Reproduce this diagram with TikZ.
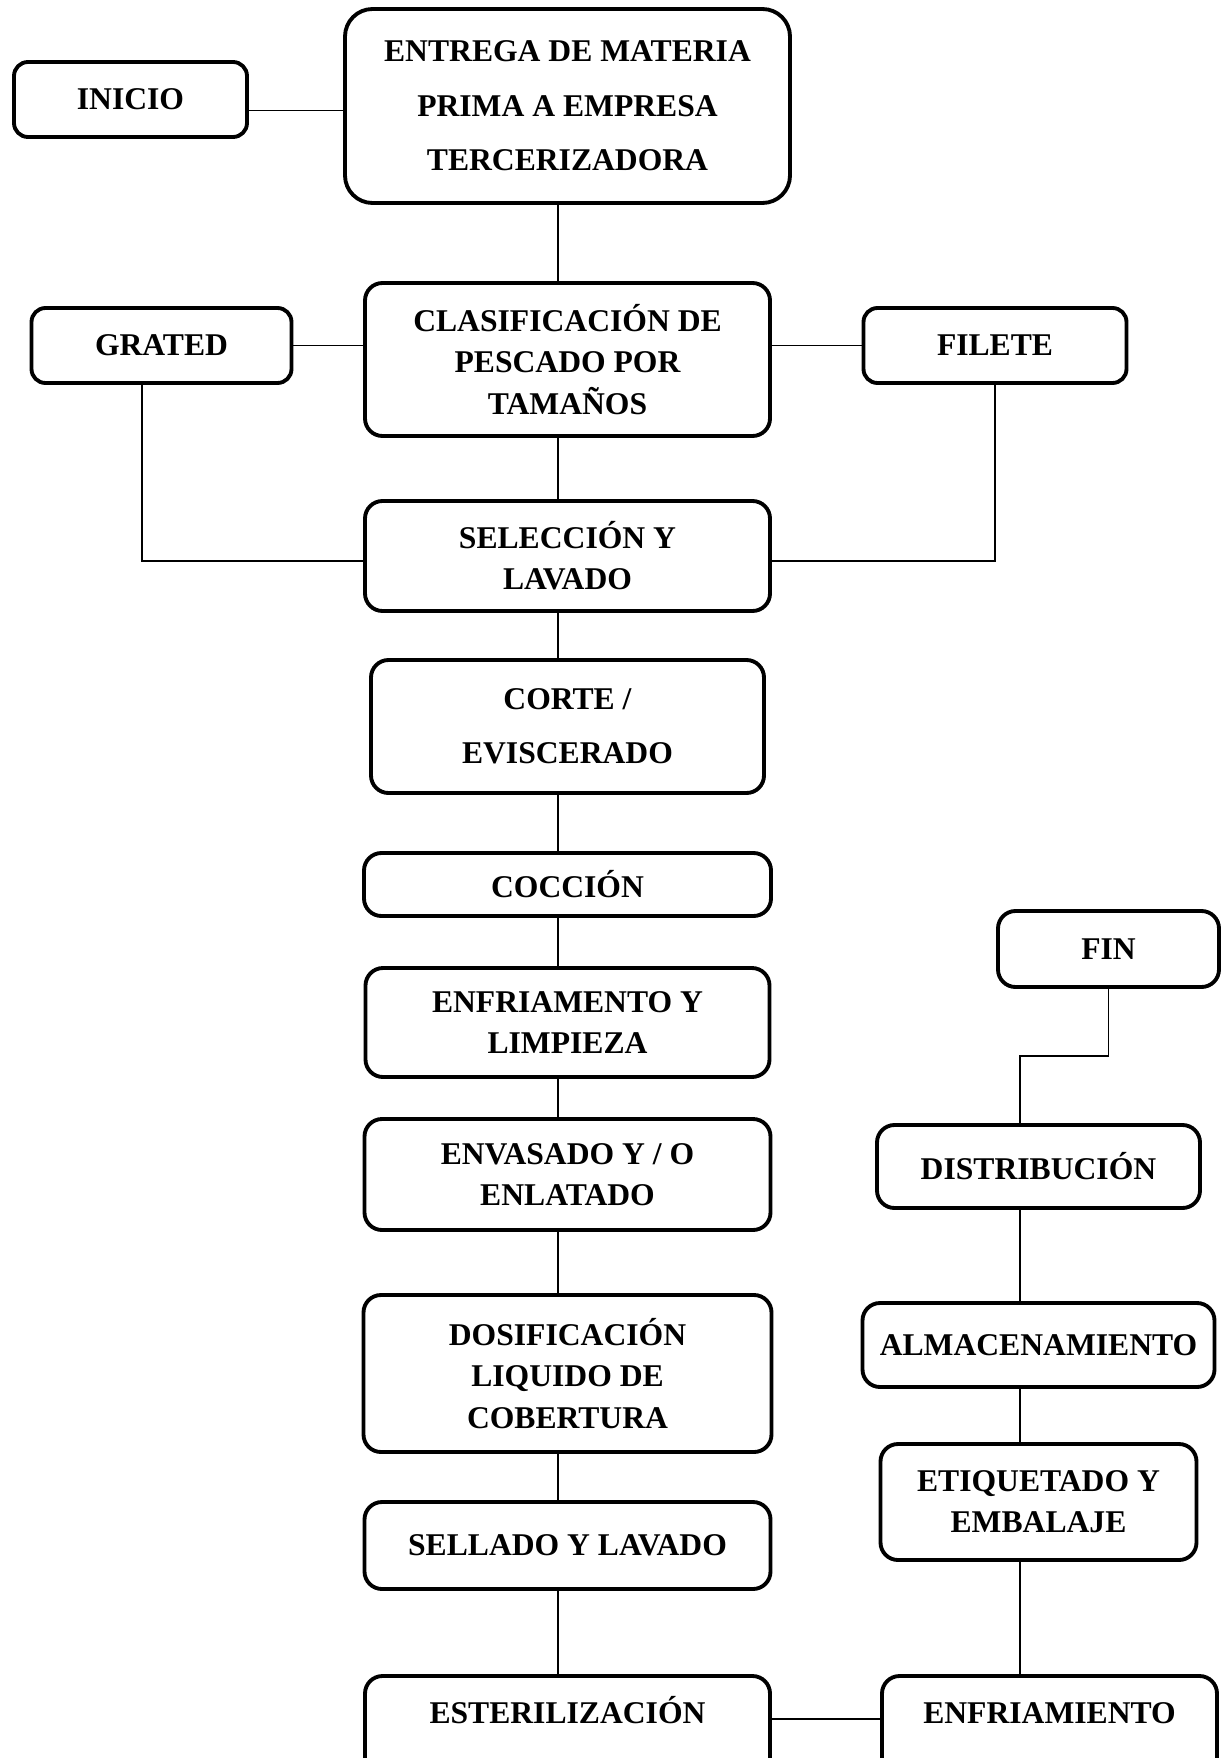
\documentclass[tikz,border=0pt]{standalone}
\usepackage{fontspec}
\setmainfont{Liberation Serif}
\usetikzlibrary{positioning}

\tikzset{
    box/.style = {draw, line width=2.2pt, rounded corners=0.35cm, align=center, inner sep=2pt,
                  font=\bfseries\fontsize{18}{23.5}\selectfont},
    wide/.style = {font=\bfseries\fontsize{18}{31}\selectfont},
    cut/.style = {inner ysep=0pt, text height=0.94cm, text depth=1.34cm},
    link/.style = {line width=0.8pt}
}

\begin{document}
\begin{tikzpicture} [node distance = 2cm, on grid]
        \useasboundingbox (0,0) rectangle (24.42,-35.16);

        % main column
        \node (entrega) [box, wide, rounded corners=0.55cm, minimum width=8.9cm, minimum height=3.88cm] at (11.35,-2.12) {ENTREGA DE MATERIA\\PRIMA A EMPRESA\\TERCERIZADORA};
        \node (clasif) [box, below = 5.07cm of entrega, minimum width=8.1cm, minimum height=3.06cm] {CLASIFICACIÓN DE\\PESCADO POR\\TAMAÑOS};
        \node (selec) [box, below = 3.93cm of clasif, minimum width=8.1cm, minimum height=2.2cm] {SELECCIÓN Y\\LAVADO};
        \node (corte) [box, wide, below = 3.41cm of selec, minimum width=7.86cm, minimum height=2.66cm] {CORTE /\\EVISCERADO};
        \node (coccion) [box, below = 3.16cm of corte, minimum width=8.14cm, minimum height=1.26cm] {COCCIÓN};
        \node (enfrlimp) [box, below = 2.76cm of coccion, minimum width=8.08cm, minimum height=2.18cm] {ENFRIAMENTO Y\\LIMPIEZA};
        \node (envasado) [box, below = 3.04cm of enfrlimp, minimum width=8.12cm, minimum height=2.22cm] {ENVASADO Y / O\\ENLATADO};
        \node (dosif) [box, below = 3.98cm of envasado, minimum width=8.16cm, minimum height=3.14cm] {DOSIFICACIÓN\\LIQUIDO DE\\COBERTURA};
        \node (sellado) [box, below = 3.44cm of dosif, minimum width=8.12cm, minimum height=1.74cm] {SELLADO Y LAVADO};
        \node (esteril) [box, cut, below = 3.75cm of sellado, minimum width=8.1cm] {ESTERILIZACIÓN};

        % right column
        \node (enfr) [box, cut, right = 9.64cm of esteril, minimum width=6.7cm] {ENFRIAMIENTO};
        \node (etiq) [box, above left = 4.62cm and 0.22cm of enfr, minimum width=6.32cm, minimum height=2.32cm] {ETIQUETADO Y\\EMBALAJE};
        \node (almacen) [box, above = 3.14cm of etiq, minimum width=7.04cm, minimum height=1.68cm] {ALMACENAMIENTO};
        \node (distrib) [box, above = 3.57cm of almacen, minimum width=6.46cm, minimum height=1.66cm] {DISTRIBUCIÓN};
        \node (fin) [box, above right = 4.35cm and 1.4cm of distrib, minimum width=4.42cm, minimum height=1.52cm] {FIN};

        % side boxes
        \node (inicio) [box, rounded corners=0.28cm, above left = 0.13cm and 8.74cm of entrega, minimum width=4.66cm, minimum height=1.5cm] {INICIO};
        \node (grated) [box, rounded corners=0.28cm, above left = 0.28cm and 8.12cm of clasif, minimum width=5.2cm, minimum height=1.5cm] {GRATED};
        \node (filete) [box, rounded corners=0.28cm, above right = 0.28cm and 8.55cm of clasif, minimum width=5.26cm, minimum height=1.5cm] {FILETE};

        \coordinate (spine) at ([xshift=-0.19cm]entrega.south);
        \coordinate (rspine) at ([xshift=-0.37cm]distrib.north);
        \coordinate (gdrop) at ([xshift=-0.39cm]grated.south);
        \coordinate (iexit) at ([yshift=-0.22cm]inicio.east);

        \draw [link] (iexit) -- (iexit -| entrega.west);
        \draw [link] (grated.east) -- (grated.east -| clasif.west);
        \draw [link] (clasif.east |- filete.west) -- (filete.west);
        \draw [link] (gdrop) |- ([yshift=-0.1cm]selec.west);
        \draw [link] (filete.south) |- ([yshift=-0.1cm]selec.east);

        \foreach \a/\b in {entrega/clasif, clasif/selec, selec/corte, corte/coccion, coccion/enfrlimp,
                           enfrlimp/envasado, envasado/dosif, dosif/sellado, sellado/esteril}
            \draw [link] (\a.south -| spine) -- (\b.north -| spine);

        \draw [link] (esteril.mid east) -- (enfr.mid west);

        \foreach \a/\b in {enfr/etiq, etiq/almacen, almacen/distrib}
            \draw [link] (\a.north -| rspine) -- (\b.south -| rspine);

        \draw [link] (fin.south) -- ++(0,-1.34) -| (rspine);

    \end{tikzpicture}
\end{document}
